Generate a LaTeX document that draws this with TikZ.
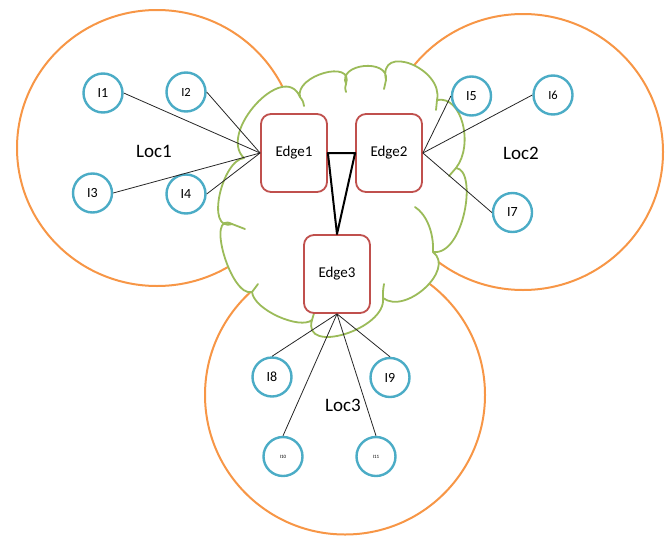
\documentclass[tikz,border=0pt]{standalone}
\usepackage{fontspec}
\setmainfont{Carlito}
\definecolor{locorange}{HTML}{F79646}
\definecolor{cloudgreen}{HTML}{9BBB59}
\definecolor{edgered}{HTML}{C0504D}
\definecolor{iotblue}{HTML}{4BACC6}
\begin{document}
\begin{tikzpicture}[x=1pt,y=-1pt,
  locarea/.style={draw=locorange,line width=2pt},
  loclabel/.style={inner sep=0pt,font=\fontsize{19}{21}\selectfont},
  edgebox/.style={draw=edgered,line width=1.8pt,rounded corners=10pt,fill=white,
    minimum width=66pt,minimum height=78pt,inner sep=0pt,font=\fontsize{15}{17}\selectfont},
  iot/.style={circle,draw=iotblue,line width=2.4pt,fill=white,minimum size=39pt,
    inner sep=0pt,font=\fontsize{14}{16}\selectfont},
  iotsmall/.style={iot,font=\fontsize{12.5}{14}\selectfont},
  iottiny/.style={iot,font=\fontsize{5}{6}\selectfont},
  link/.style={draw=black!85,line width=0.8pt},
  core/.style={draw=black,line width=2pt,line join=round},
  cloudline/.style={draw=cloudgreen,line width=1.8pt,line join=round,line cap=round}]
\useasboundingbox (0,0) rectangle (669,536);

% location areas
\draw[locarea] (157,148) ellipse [x radius=140pt, y radius=138pt];
\draw[locarea] (523,152) ellipse [x radius=140pt, y radius=138pt];
\draw[locarea] (345,395) ellipse [x radius=140pt, y radius=139.5pt];

% cloud outline, one bump per segment
\draw[cloudline,fill=white] (244,158)
  .. controls (217.1,132.8) and (284.3,59.6) .. (300,97)
  .. controls (294.4,75.6) and (354.2,58.7) .. (346,84)
  .. controls (337.3,63.3) and (389.3,58.1) .. (386,80)
  .. controls (377.6,42.3) and (443.9,68.3) .. (437,100)
  .. controls (462,95) and (474,145) .. (456,168)
  .. controls (478,170) and (464,256) .. (433,252)
  .. controls (455.7,269.3) and (405.7,315.3) .. (383,298)
  .. controls (386.8,329.1) and (301.6,355.5) .. (312,320)
  .. controls (300,330) and (254,310) .. (252,292)
  .. controls (231,298.2) and (205,209.8) .. (232,224)
  .. controls (204.9,232.6) and (222,160) .. (244,158) -- cycle;
% inner ends of the bumps
\draw[cloudline] (300,97) .. controls (303,101) .. (304,106);
\draw[cloudline] (346,84) .. controls (345,88) .. (346,92);
\draw[cloudline] (386,80) .. controls (385,85) .. (384,89);
\draw[cloudline] (437,100) .. controls (437,105) .. (436,110);
\draw[cloudline] (456,168) .. controls (453,172) .. (449,176);
\draw[cloudline] (433,252) .. controls (434,232) and (426,214) .. (415,207);
\draw[cloudline] (383,298) .. controls (383,290) .. (384,284);
\draw[cloudline] (312,320) .. controls (314,315) .. (315,310);
\draw[cloudline] (252,292) .. controls (255,288) .. (258,284);
\draw[cloudline] (232,224) .. controls (238,227) .. (245,229);

% labels of the areas
\node[loclabel] (loc1) at (154,151) {Loc1};
\node[loclabel] (loc2) at (521,153) {Loc2};
\node[loclabel] (loc3) at (343,405) {Loc3};

% edge servers
\node[edgebox] (e1) at (294,153) {Edge1};
\node[edgebox] (e2) at (389,153) {Edge2};
\node[edgebox] (e3) at (337,274) {Edge3};

% devices
\node[iot]      (i1)  at (103,93)  {I1};
\node[iotsmall] (i2)  at (186,92)  {I2};
\node[iot]      (i3)  at (92.5,193) {I3};
\node[iot]      (i4)  at (186,194) {I4};
\node[iot]      (i5)  at (471.5,96) {I5};
\node[iotsmall] (i6)  at (553,95)  {I6};
\node[iot]      (i7)  at (512.5,212.5) {I7};
\node[iot]      (i8)  at (272,377) {I8};
\node[iot]      (i9)  at (390,377.5) {I9};
\node[iottiny]  (i10) at (283,456.5) {I10};
\node[iottiny]  (i11) at (376,456.5) {I11};

% links between edge servers
\draw[core] (e1.east) -- (e2.west) -- (e3.north) -- cycle;

% device links
\foreach \d in {i1,i2,i3,i4} \draw[link] (e1.west) -- (\d.east);
\foreach \d in {i5,i6,i7} \draw[link] (e2.east) -- (\d.west);
\foreach \d in {i8,i9,i10,i11} \draw[link] (e3.south) -- (\d.north);
\end{tikzpicture}
\end{document}
